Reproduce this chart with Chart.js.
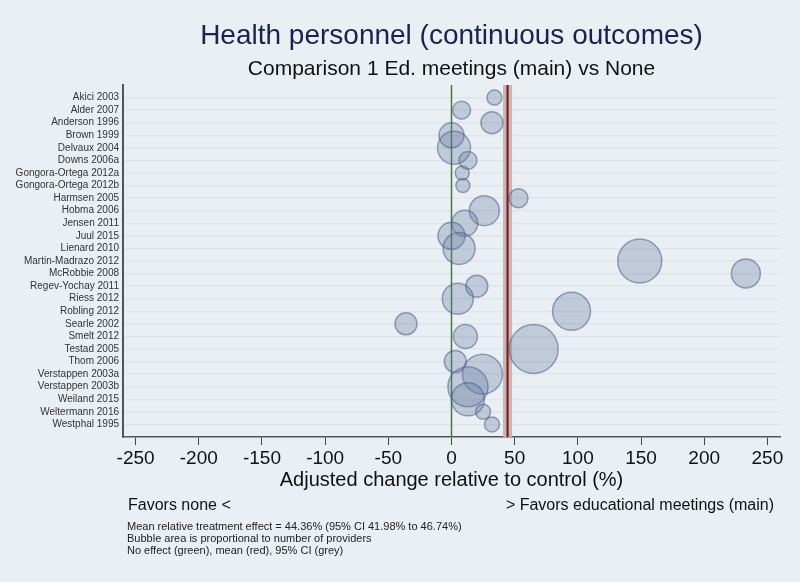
<!DOCTYPE html>
<html>
<head>
<meta charset="utf-8">
<script src="https://cdn.jsdelivr.net/npm/chart.js@4"></script>
<style>
  html, body { margin: 0; padding: 0; background: #eaeff3; }
  #wrap { width: 800px; height: 582px; }
</style>
</head>
<body>
<div id="wrap"><canvas id="bubbleChart"></canvas></div>
<script>
var studies = [
    "Akici 2003", "Alder 2007", "Anderson 1996", "Brown 1999", "Delvaux 2004",
    "Downs 2006a", "Gongora-Ortega 2012a", "Gongora-Ortega 2012b", "Harmsen 2005",
    "Hobma 2006", "Jensen 2011", "Juul 2015", "Lienard 2010", "Martin-Madrazo 2012",
    "McRobbie 2008", "Regev-Yochay 2011", "Riess 2012", "Robling 2012", "Searle 2002",
    "Smelt 2012", "Testad 2005", "Thom 2006", "Verstappen 2003a", "Verstappen 2003b",
    "Weiland 2015", "Weltermann 2016", "Westphal 1995"
];
// adjusted change relative to control (%)
var effects = [34, 8, 32, 0, 2, 13, 8.5, 9, 53, 26, 10.5, 0, 6, 149, 233, 20, 5, 95, -36, 11, 65, 3, 24.5, 13, 13, 25, 32];
// bubble radius (area ~ number of providers)
var sizes = [7.5, 9, 11, 12.5, 16.5, 9, 7, 7, 9.5, 15, 13, 13.5, 16, 22, 14.5, 11, 15.5, 19, 11, 12, 24.5, 11, 20, 20, 16.5, 7.5, 7.5];
var xTicks = [-250, -200, -150, -100, -50, 0, 50, 100, 150, 200, 250];

var noEffect = 0;
var meanEffect = 44.36;
var ciLow = 41.98;
var ciHigh = 46.74;

var points = studies.map(function (s, i) {
    return { x: effects[i], y: i + 1, r: sizes[i] };
});

var FONT = "'Liberation Sans', Arial, sans-serif";

// no effect / mean / CI reference lines
var refLines = {
    id: 'refLines',
    beforeDatasetsDraw: function (chart) {
        var ctx = chart.ctx, a = chart.chartArea, x = chart.scales.x;
        ctx.save();
        var x1 = x.getPixelForValue(ciLow), x2 = x.getPixelForValue(ciHigh);
        ctx.fillStyle = '#bababa';
        ctx.fillRect(x1 - 1.5, a.top, x2 - x1 + 3, a.bottom - a.top);
        ctx.strokeStyle = '#2e8b22';
        ctx.lineWidth = 1.5;
        ctx.beginPath();
        ctx.moveTo(x.getPixelForValue(noEffect), a.top);
        ctx.lineTo(x.getPixelForValue(noEffect), a.bottom);
        ctx.stroke();
        ctx.strokeStyle = '#a00000';
        ctx.lineWidth = 2;
        ctx.beginPath();
        ctx.moveTo(x.getPixelForValue(meanEffect), a.top);
        ctx.lineTo(x.getPixelForValue(meanEffect), a.bottom);
        ctx.stroke();
        ctx.restore();
    }
};

// titles centred over the plot, footnotes under the axis
var texts = {
    id: 'texts',
    afterDraw: function (chart) {
        var ctx = chart.ctx, a = chart.chartArea;
        var cx = (a.left + a.right) / 2;
        ctx.save();
        ctx.textBaseline = 'alphabetic';
        ctx.textAlign = 'center';
        ctx.fillStyle = '#1c2150';
        ctx.font = '28px ' + FONT;
        ctx.fillText('Health personnel (continuous outcomes)', cx, 43.5);
        ctx.fillStyle = '#111';
        ctx.font = '21px ' + FONT;
        ctx.fillText('Comparison 1 Ed. meetings (main) vs None', cx, 75);

        ctx.textBaseline = 'middle';
        ctx.font = '16px ' + FONT;
        ctx.textAlign = 'left';
        ctx.fillText('Favors none <', 128, 506);
        ctx.textAlign = 'right';
        ctx.fillText('> Favors educational meetings (main)', 774, 506);
        ctx.textAlign = 'left';
        ctx.font = '11px ' + FONT;
        ctx.fillStyle = '#222';
        ctx.fillText('Mean relative treatment effect = ' + meanEffect.toFixed(2) + '% (95% CI ' +
            ciLow.toFixed(2) + '% to ' + ciHigh.toFixed(2) + '%)', 127, 527);
        ctx.fillText('Bubble area is proportional to number of providers', 127, 539);
        ctx.fillText('No effect (green), mean (red), 95% CI (grey)', 127, 551);
        ctx.restore();
    }
};

var bubble = document.getElementById("bubbleChart").getContext('2d');
var myChart = new Chart(bubble, {
    type: 'bubble',
    data: {
        datasets: [{
            data: points,
            backgroundColor: 'rgba(95, 115, 155, 0.3)',
            borderColor: 'rgba(75, 95, 140, 0.55)',
            borderWidth: 1.5
        }]
    },
    plugins: [refLines, texts],
    options: {
        responsive: true,
        maintainAspectRatio: false,
        animation: false,
        events: [],
        layout: { autoPadding: false, padding: { left: 0, right: 20, top: 85, bottom: 90 } },
        plugins: {
            legend: { display: false },
            tooltip: { enabled: false },
            title: { display: false },
            subtitle: { display: false }
        },
        scales: {
            x: {
                type: 'linear',
                min: -260,
                max: 260,
                afterBuildTicks: function (scale) {
                    scale.ticks = xTicks.map(function (v) { return { value: v }; });
                },
                afterFit: function (scale) {
                    scale.height = 55;
                    scale.paddingLeft = 0;
                    scale.paddingRight = 0;
                },
                grid: { drawOnChartArea: false, drawTicks: true, tickLength: 8, color: '#444', lineWidth: 1 },
                border: { display: true, color: '#555', width: 1.5 },
                ticks: { color: '#111', font: { family: FONT, size: 19 }, padding: 2, maxRotation: 0 },
                title: {
                    display: true,
                    text: 'Adjusted change relative to control (%)',
                    color: '#111',
                    font: { family: FONT, size: 20 },
                    padding: { top: 0, bottom: 0 }
                }
            },
            y: {
                type: 'linear',
                min: 0,
                max: studies.length + 1,
                reverse: true,
                afterBuildTicks: function (scale) {
                    scale.ticks = studies.map(function (s, i) { return { value: i + 1 }; });
                },
                afterFit: function (scale) { scale.width = 123; },
                grid: { drawOnChartArea: true, drawTicks: false, color: '#dde6ec', lineWidth: 1.5 },
                border: { display: true, color: '#555', width: 2 },
                ticks: {
                    color: '#333',
                    font: { family: FONT, size: 10 },
                    padding: 4,
                    autoSkip: false,
                    callback: function (v) { return studies[v - 1]; }
                }
            }
        }
    }
});
</script>
</body>
</html>
